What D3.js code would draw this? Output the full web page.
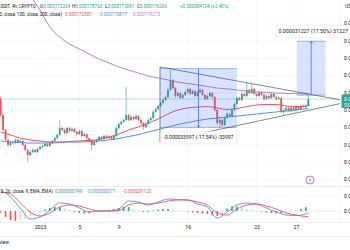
<!DOCTYPE html>
<html>
<head>
<meta charset="utf-8">
<script src="https://cdn.jsdelivr.net/npm/d3@7"></script>
<style>
html, body { margin: 0; padding: 0; background: #fff; overflow: hidden; }
svg { display: block; font-family: Roboto, "Liberation Sans", sans-serif; }
</style>
</head>
<body>
<svg id="chart" width="350" height="250"></svg>
<script>
// prices below are in units of 0.000001 USDT
var start = Date.UTC(2022, 11, 28, 0);   // first 6h candle
var firstOpen = 176.5;
var closes = [
  167.0,158.4,152.6,149.7,151.4,150.8,152.6,151.4,152.0,149.7,
  146.8,143.9,145.6,146.8,145.6,147.4,148.5,149.1,150.3,149.1,
  150.8,152.0,153.7,155.5,159.5,158.4,156.6,159.5,157.8,158.9,
  157.2,156.0,157.8,154.9,156.0,153.7,152.6,149.7,151.4,152.6,
  154.3,153.2,154.9,153.7,154.3,153.2,154.9,159.5,161.8,163.0,
  164.1,167.0,164.1,165.9,164.7,166.4,164.1,162.4,160.1,161.8,
  164.1,165.3,168.8,170.5,172.2,174.0,175.7,177.4,181.5,187.3,
  182.6,178.0,179.7,176.9,178.6,180.3,182.1,179.2,180.9,178.0,
  180.3,181.5,178.6,176.3,178.0,179.7,177.4,169.9,162.4,164.1,
  161.2,165.3,167.6,166.4,169.9,173.4,176.9,175.7,179.2,178.0,
  181.5,179.7,182.1,179.2,178.0,180.3,178.6,176.3,178.0,176.9,
  179.2,177.4,176.3,176.9,168.8,169.9,171.1,169.3,171.1,169.9,
  171.6,170.5,172.2,171.6,172.224,176.266
];
var highs = [
  177.6,168.0,159.0,153.4,152.3,152.2,153.5,153.2,152.9,152.6,
  150.3,147.5,146.4,147.6,147.5,148.2,149.3,150.0,151.2,150.9,
  151.6,152.8,154.5,156.3,164.1,160.4,159.0,160.3,160.2,159.8,
  159.5,157.9,158.6,158.3,156.9,156.5,154.4,153.1,152.2,153.4,
  155.1,155.0,155.7,155.6,155.2,155.0,155.8,160.4,162.7,163.9,
  165.0,183.2,167.8,166.8,166.6,167.3,167.0,164.8,163.0,162.6,
  165.0,166.2,169.7,171.4,173.1,174.9,176.6,178.3,182.5,193.0,
  188.2,183.3,180.6,180.4,179.5,181.2,183.0,182.8,181.8,181.6,
  181.2,182.4,182.2,179.2,178.9,180.6,180.3,178.0,170.6,165.0,
  164.8,166.2,168.5,168.3,170.8,174.3,177.8,177.6,180.1,179.9,
  186.1,182.3,184.9,182.8,179.9,181.2,181.0,179.2,178.9,178.7,
  180.1,179.9,178.1,177.8,177.5,170.8,172.0,171.8,172.0,171.8,
  172.5,172.3,173.1,172.9,173.0,178.763
];
var lows = [
  166.2,157.5,151.5,148.6,149.0,149.9,150.2,150.6,150.7,149.0,
  145.9,139.9,143.1,145.0,144.8,145.1,146.9,147.8,148.6,148.4,
  148.7,150.2,151.4,153.1,155.0,157.6,155.9,156.1,157.0,157.2,
  156.5,155.3,155.5,154.1,154.3,152.9,151.8,146.8,149.1,150.8,
  152.0,152.5,152.7,153.0,153.1,152.4,152.6,154.3,158.9,161.0,
  162.3,163.5,163.4,163.5,164.0,164.0,163.3,161.6,158.4,159.4,
  161.2,163.5,164.8,168.0,169.8,171.5,173.3,175.0,176.8,180.9,
  181.8,177.1,177.3,176.1,176.3,178.0,179.6,178.5,178.6,177.2,
  177.5,179.7,177.9,175.5,175.7,177.4,176.6,168.9,161.3,159.5,
  160.2,160.6,164.7,165.6,165.8,169.2,172.8,175.0,175.1,177.3,
  177.4,178.9,179.1,178.5,177.2,177.4,177.9,175.5,175.7,176.1,
  176.3,176.7,175.6,175.7,167.8,166.4,169.3,168.6,168.7,169.2,
  169.3,169.8,169.9,170.9,171.0,172.091
];

// moving averages, one value per day (every 4th candle) plus the last candle
var maRed = [157.2,155.5,153.7,152.6,152.0,151.4,151.4,151.7,152.0,152.3,152.9,154.3,156.0,158.4,160.1,162.4,
  164.7,167.6,169.9,171.1,171.6,171.9,171.1,170.2,170.8,171.9,172.8,173.1,173.1,172.2,171.9,172.3,172.551];
var maBlue = [152.0,151.4,151.1,150.8,150.8,150.8,151.1,151.4,151.4,151.7,152.0,152.6,153.4,154.6,155.7,157.2,
  158.6,160.1,161.5,162.7,163.8,164.7,165.3,165.9,166.4,167.0,167.6,168.2,168.8,169.3,169.9,170.6,170.877];
var maPurple = [276.8,262.4,247.9,236.4,227.7,217.9,212.1,208.1,205.2,202.3,199.4,197.1,194.8,193.0,191.3,189.6,
  188.4,187.3,186.1,185.2,184.4,183.5,182.6,182.1,181.5,180.9,180.3,180.0,179.7,179.5,179.3,179.3,179.273];

// MACD pane, same daily sampling
var macdLine = [4.2,2.8,0.6,-1.6,-1.2,0.2,1.6,1.4,0.6,-0.2,0.0,0.0,0.4,2.0,1.8,1.2,
  1.8,2.4,2.3,2.2,1.4,0.8,-1.4,-0.2,1.2,1.6,1.4,0.6,-0.2,-0.8,-0.9,-0.6,-0.371];
var signalLine = [3.8,3.4,1.6,-0.2,-1.0,-0.4,0.8,1.2,1.0,0.4,0.0,0.0,0.1,1.2,1.6,1.4,
  1.6,2.0,2.2,2.2,1.8,1.2,-0.4,-0.8,0.4,1.2,1.4,1.0,0.4,-0.4,-0.8,-1.1,-1.12];
// histogram, every 2nd candle
var histo = [-0.3,-1.2,-1.8,-2.0,-1.8,-1.5,-1.0,-0.5,-0.2,0.3,0.6,0.8,0.8,0.5,0.2,-0.2,-0.4,-0.5,-0.5,-0.3,
  0.0,0.1,0.2,0.4,0.6,0.8,0.8,0.3,0.1,-0.2,-0.2,0.1,0.3,0.4,0.4,0.2,0.1,0.0,-0.1,-0.3,
  -0.4,-0.5,-0.6,-0.9,-1.0,-0.6,0.5,0.9,0.9,0.6,0.4,0.2,0.0,-0.1,-0.3,-0.4,-0.5,-0.5,-0.4,-0.2,
  0.1,0.4,0.749];

var priceTicks = [130,140,150,160,170,180,190,200,210,220];
var macdTicks = [0, 3];
var dayTicks = [[Date.UTC(2023,0,1),'2023'],[Date.UTC(2023,0,5),'5'],[Date.UTC(2023,0,9),'9'],
  [Date.UTC(2023,0,16),'16'],[Date.UTC(2023,0,23),'23'],[Date.UTC(2023,0,27),'27']];

// drawings (time, price)
var triangle = [[Date.UTC(2023,0,13,4,30),194.8],[Date.UTC(2023,0,13,4,30),151.4],[Date.UTC(2023,1,1,11),174.8]];
var rangeDown = {t0:Date.UTC(2023,0,13,4,30), t1:Date.UTC(2023,0,21,0), from:193.84, to:159.84, label:'-0.000033997 (-17.54%) -33997'};
var rangeUp = {t0:Date.UTC(2023,0,27,2), t1:Date.UTC(2023,0,30,0), from:178.44, to:209.67, label:'0.000031227 (17.50%) 31227'};

var green = '#26a69a', red = '#ef5350', ink = '#131722';
var svg = d3.select('#chart');
var plotR = 340, mainB = 186, macdT = 187, macdB = 222;

var x = d3.scaleUtc().domain([new Date(Date.UTC(2023,0,1)), new Date(Date.UTC(2023,0,27))]).range([40, 296]);
var y = d3.scaleLinear().domain([125.98, 233.49]).range([mainB, 0]);
var ym = d3.scaleLinear().domain([-2.2, 4.8]).range([macdB, macdT]);

var sixH = 6 * 3600 * 1000;
var candles = closes.map(function(c, i) {
  return {d: new Date(start + i * sixH), o: i ? closes[i - 1] : firstOpen, h: highs[i], l: lows[i], c: c};
});
var maIdx = d3.range(0, 125, 4).concat([125]);
var maDates = maIdx.map(function(i) { return new Date(start + i * sixH); });
var hIdx = d3.range(0, 125, 2);

var defs = svg.append('defs');
defs.append('clipPath').attr('id', 'cm').append('rect').attr('width', plotR).attr('height', mainB);
defs.append('clipPath').attr('id', 'cd').append('rect').attr('y', macdT).attr('width', plotR).attr('height', macdB - macdT);

// grid
var grid = svg.append('g').attr('stroke', '#f0f3fa').attr('stroke-width', 0.6);
grid.selectAll('.h').data(priceTicks).enter().append('line')
  .attr('x1', 0).attr('x2', plotR).attr('y1', function(d){ return y(d) + 0.5; }).attr('y2', function(d){ return y(d) + 0.5; });
grid.selectAll('.m').data(macdTicks).enter().append('line')
  .attr('x1', 0).attr('x2', plotR).attr('y1', function(d){ return ym(d) + 0.5; }).attr('y2', function(d){ return ym(d) + 0.5; });
grid.selectAll('.v').data(dayTicks).enter().append('line')
  .attr('y1', 0).attr('y2', macdB).attr('x1', function(d){ return x(new Date(d[0])); }).attr('x2', function(d){ return x(new Date(d[0])); });

// borders
svg.append('line').attr('x1', 0).attr('x2', 350).attr('y1', mainB + 0.5).attr('y2', mainB + 0.5).attr('stroke', '#e0e3eb').attr('stroke-width', 0.7);
svg.append('line').attr('x1', 0).attr('x2', 350).attr('y1', macdB + 0.5).attr('y2', macdB + 0.5).attr('stroke', '#e0e3eb').attr('stroke-width', 0.6);
svg.append('line').attr('x1', plotR + 0.5).attr('x2', plotR + 0.5).attr('y1', 0).attr('y2', macdB).attr('stroke', '#eef0f4').attr('stroke-width', 0.6);
svg.append('line').attr('x1', 0).attr('x2', 350).attr('y1', 236.5).attr('y2', 236.5).attr('stroke', '#e0e3eb').attr('stroke-width', 0.6);

var main = svg.append('g').attr('clip-path', 'url(#cm)');
var lastC = candles[candles.length - 1].c;

// last price line
main.append('line').attr('x1', 0).attr('x2', plotR).attr('y1', y(lastC)).attr('y2', y(lastC))
  .attr('stroke', green).attr('stroke-opacity', 0.55).attr('stroke-width', 0.6);

// candles
var cw = 1.8;
var cg = main.append('g');
cg.selectAll('line').data(candles).enter().append('line')
  .attr('x1', function(d){ return x(d.d); }).attr('x2', function(d){ return x(d.d); })
  .attr('y1', function(d){ return y(d.h); }).attr('y2', function(d){ return y(d.l); })
  .attr('stroke', function(d){ return d.c >= d.o ? green : red; }).attr('stroke-width', 0.6);
cg.selectAll('rect').data(candles).enter().append('rect')
  .attr('x', function(d){ return x(d.d) - cw / 2; }).attr('width', cw)
  .attr('y', function(d){ return y(Math.max(d.o, d.c)); })
  .attr('height', function(d){ return Math.max(0.6, Math.abs(y(d.o) - y(d.c))); })
  .attr('fill', function(d){ return d.c >= d.o ? green : red; });

// moving averages
function maPath(vals, sc) {
  return d3.line().curve(d3.curveMonotoneX)
    .x(function(d, i){ return x(maDates[i]); }).y(function(d){ return sc(d); })(vals);
}
main.append('path').attr('d', maPath(maBlue, y)).attr('fill', 'none').attr('stroke', '#4f8ef7').attr('stroke-width', 1);
main.append('path').attr('d', maPath(maRed, y)).attr('fill', 'none').attr('stroke', '#f4505a').attr('stroke-width', 1);
main.append('path').attr('d', maPath(maPurple, y)).attr('fill', 'none').attr('stroke', '#c17ad6').attr('stroke-width', 1);

// price range boxes
function rangeBox(r, up) {
  var x0 = x(new Date(r.t0)), x1 = x(new Date(r.t1)), xm = (x0 + x1) / 2;
  var yTop = y(Math.max(r.from, r.to)), yBot = y(Math.min(r.from, r.to));
  main.append('rect').attr('x', x0).attr('y', yTop).attr('width', x1 - x0).attr('height', yBot - yTop)
    .attr('fill', 'rgba(41,98,255,0.18)');
  [yTop, yBot].forEach(function(v){
    main.append('line').attr('x1', x0).attr('x2', x1).attr('y1', v).attr('y2', v)
      .attr('stroke', '#2962ff').attr('stroke-opacity', 0.7).attr('stroke-width', 0.6);
  });
  var yFrom = y(r.from), yTo = y(r.to);
  main.append('line').attr('x1', xm).attr('x2', xm).attr('y1', yFrom).attr('y2', yTo)
    .attr('stroke', '#2962ff').attr('stroke-width', 0.7);
  var dir = up ? 1 : -1;
  main.append('path').attr('d', 'M' + (xm - 1.5) + ',' + (yTo + dir * 2) + 'L' + xm + ',' + yTo + 'L' + (xm + 1.5) + ',' + (yTo + dir * 2))
    .attr('fill', 'none').attr('stroke', '#2962ff').attr('stroke-width', 0.7);
  return xm;
}
var xmDown = rangeBox(rangeDown, false);
var xmUp = rangeBox(rangeUp, true);

// triangle
var tri = triangle.map(function(p){ return [x(new Date(p[0])), y(p[1])]; });
main.append('path').attr('d', 'M' + tri[2] + 'L' + tri[0] + 'L' + tri[1] + 'L' + tri[2])
  .attr('fill', 'none').attr('stroke', '#50535e').attr('stroke-width', 0.7);

// tooltips of the range tool
function tip(label, cx, cy, fs) {
  var g = svg.append('g');
  var t = g.append('text').attr('x', cx).attr('y', cy).attr('dy', '0.35em').attr('text-anchor', 'middle')
    .attr('font-size', fs).attr('fill', ink).text(label);
  var bb = t.node().getBBox();
  g.insert('rect', 'text').attr('x', bb.x - 3).attr('y', bb.y - 2.5).attr('width', bb.width + 6).attr('height', bb.height + 5)
    .attr('rx', 1.5).attr('fill', '#fff').attr('stroke', '#e4e6ec').attr('stroke-width', 0.5);
}
tip(rangeDown.label, xmDown, y(rangeDown.to) + 10, 5);
tip(rangeUp.label, xmUp + 2, y(rangeUp.to) - 10, 5.3);

// MACD pane
var md = svg.append('g').attr('clip-path', 'url(#cd)');
md.append('line').attr('x1', 0).attr('x2', plotR).attr('y1', ym(0)).attr('y2', ym(0))
  .attr('stroke', '#9ed3cb').attr('stroke-width', 0.5).attr('stroke-dasharray', '1,1.5');
md.selectAll('rect').data(histo).enter().append('rect')
  .attr('x', function(d, j){ return x(new Date(start + hIdx[j] * sixH)) - 0.8; }).attr('width', 1.6)
  .attr('y', function(d){ return Math.min(ym(d), ym(0)); })
  .attr('height', function(d){ return Math.max(0.4, Math.abs(ym(d) - ym(0))); })
  .attr('fill', function(d, j){
    var prev = j ? histo[j - 1] : d;
    if (d >= 0) return d >= prev ? '#26a69a' : '#b2dfdb';
    return d <= prev ? '#ff5252' : '#ffcdd2';
  });
md.append('path').attr('d', maPath(macdLine, ym)).attr('fill', 'none').attr('stroke', '#4f8ef7').attr('stroke-width', 0.9);
md.append('path').attr('d', maPath(signalLine, ym)).attr('fill', 'none').attr('stroke', '#f4505a').attr('stroke-width', 0.9);

// right price axis
var fmt = function(v){ return (v / 1e6).toFixed(9); };
var ay = svg.append('g').attr('transform', 'translate(344,0)')
  .call(d3.axisRight(y).tickValues(priceTicks).tickSize(0).tickPadding(0).tickFormat(fmt));
var am = svg.append('g').attr('transform', 'translate(344,0)')
  .call(d3.axisRight(ym).tickValues(macdTicks).tickSize(0).tickPadding(0).tickFormat(fmt));
[ay, am].forEach(function(a){
  a.select('.domain').remove();
  a.selectAll('text').attr('font-size', 5).attr('fill', ink).attr('font-family', 'Roboto, "Liberation Sans", sans-serif');
});
svg.append('text').attr('x', 345).attr('y', 6).attr('dy', '0.35em').attr('font-size', 5).attr('fill', ink).text('USDT');

// last price tag
var py = y(lastC);
svg.append('rect').attr('x', 341.5).attr('y', py - 4.5).attr('width', 12).attr('height', 13.5).attr('rx', 1).attr('fill', green);
svg.append('text').attr('x', 344).attr('y', py).attr('dy', '0.35em').attr('font-size', 5).attr('fill', '#fff').text(fmt(lastC));
svg.append('text').attr('x', 344).attr('y', py + 6).attr('dy', '0.35em').attr('font-size', 4.6).attr('fill', '#e6f7f4').text('03:12:41');

// time axis
var ax = svg.append('g').attr('transform', 'translate(0,' + macdB + ')')
  .call(d3.axisBottom(x).tickValues(dayTicks.map(function(d){ return new Date(d[0]); })).tickSize(0).tickPadding(3.5)
    .tickFormat(function(d, i){ return dayTicks[i][1]; }));
ax.select('.domain').remove();
ax.selectAll('text').attr('font-size', 5.2).attr('fill', ink).attr('font-family', 'Roboto, "Liberation Sans", sans-serif');

// legends
function legend(yy, prefix, endX, items) {
  svg.append('text').attr('x', endX).attr('y', yy).attr('dy', '0.35em').attr('text-anchor', 'end')
    .attr('font-size', 4.6).attr('fill', ink).text(prefix);
  items.forEach(function(it){
    var t = svg.append('text').attr('x', it[0]).attr('y', yy).attr('dy', '0.35em').attr('font-size', 4.6);
    if (it[3]) t.append('tspan').attr('fill', ink).text(it[3]);
    t.append('tspan').attr('fill', it[2]).text(it[1]);
  });
}
legend(6, 'LUNCUSDT, 4h, CRYPTO', 36, [
  [40, '0.000172224', green, 'O'], [72, '0.000178763', green, 'H'], [105, '0.000172091', green, 'L'],
  [137, '0.000176266', green, 'C'], [180, '+0.000004124 (+2.40%)', green]
]);
legend(14, 'MA Ribbon (close, 50, close, 100, close, 200, close)', 62, [
  [65, '0.000172551', '#f4505a'], [100, '0.000170877', '#4f8ef7'], [133, '0.000179273', '#c17ad6']
]);
legend(191.5, 'MACD (12, 26, close, 9, EMA, EMA)', 53, [
  [55, '0.000000749', green], [87, '-0.000000371', '#4f8ef7'], [123, '-0.000001120', '#f4505a']
]);

// alert icon
var ic = svg.append('g').attr('transform', 'translate(310,180)');
ic.append('circle').attr('r', 4).attr('fill', '#fff').attr('stroke', '#b04fd0').attr('stroke-width', 0.8);
ic.append('path').attr('d', 'M0.8,-2.6L-1.3,0.4L0.2,0.4L-0.8,2.6L1.4,-0.5L-0.1,-0.5Z').attr('fill', '#b04fd0');

svg.append('text').attr('x', 9).attr('y', 242).attr('dy', '0.35em').attr('text-anchor', 'end')
  .attr('font-size', 5).attr('fill', ink).text('Overview');
</script>
</body>
</html>
